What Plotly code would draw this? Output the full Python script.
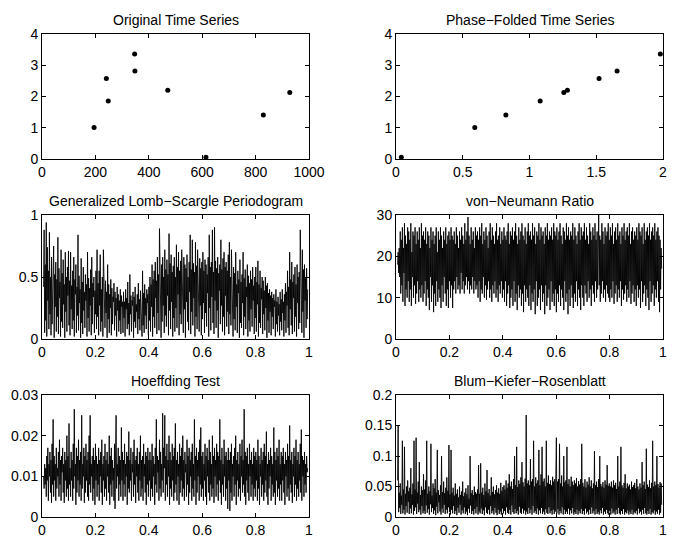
import numpy as np
import plotly.graph_objects as go

# ---- Data ----
orig_time = [195, 241, 248, 347, 348, 471, 614, 829, 928]
orig_mag = [1.01, 2.58, 1.86, 3.36, 2.82, 2.20, 0.06, 1.41, 2.13]

phase = [0.04, 0.59, 0.823, 1.08, 1.257, 1.284, 1.521, 1.656, 1.98]
phase_mag = [0.06, 1.01, 1.41, 1.86, 2.13, 2.20, 2.58, 2.82, 3.36]

freq_start, freq_stop = 0.006, 0.995

gls = [
    .42, .88, .05, .60, .15, .94, .02, .74, .31, .55, .08, .86, .20, .50, .03, .66, .12, .45, .38, .75, .01, .52, .26, .62, .06,
    .48, .18, .82, .04, .57, .33, .46, .02, .72, .14, .53, .09, .64, .28, .44, .01, .70, .22, .50, .06, .58, .35, .71, .11, .47,
    .03, .70, .24, .43, .08, .55, .15, .66, .02, .48, .36, .60, .05, .42, .19, .84, .07, .51, .29, .40, .01, .65, .13, .46, .04,
    .58, .23, .38, .09, .52, .31, .44, .02, .70, .17, .49, .06, .41, .27, .56, .03, .66, .12, .45, .34, .50, .05, .39, .20, .55,
    .08, .72, .18, .45, .03, .55, .27, .68, .06, .40, .14, .50, .02, .72, .33, .42, .09, .47, .21, .38, .01, .60, .16, .44, .05,
    .36, .25, .48, .03, .41, .12, .34, .30, .45, .07, .38, .19, .33, .02, .42, .23, .36, .06, .31, .15, .40, .04, .35, .26, .30,
    .05, .38, .17, .30, .02, .40, .24, .33, .08, .46, .12, .29, .03, .52, .20, .35, .06, .31, .27, .38, .01, .34, .14, .42, .09,
    .28, .22, .36, .04, .45, .16, .32, .07, .39, .25, .30, .02, .55, .11, .37, .05, .44, .19, .33, .08, .40, .29, .36, .03, .42,
    .15, .50, .06, .44, .26, .60, .02, .48, .18, .55, .09, .62, .33, .47, .04, .66, .21, .52, .07, .89, .38, .58, .01, .60, .14,
    .66, .27, .50, .05, .72, .19, .56, .10, .64, .35, .52, .03, .85, .23, .61, .08, .68, .30, .54, .02, .59, .17, .66, .06, .50,
    .25, .76, .09, .58, .36, .70, .03, .55, .20, .63, .12, .72, .41, .52, .05, .66, .24, .60, .01, .57, .30, .68, .14, .50, .07,
    .62, .38, .84, .04, .56, .22, .80, .11, .61, .33, .54, .02, .78, .18, .59, .08, .72, .40, .53, .06, .65, .27, .57, .03, .62,
    .16, .70, .29, .55, .05, .64, .21, .60, .10, .52, .37, .66, .02, .84, .25, .58, .07, .62, .34, .88, .13, .54, .04, .90, .31,
    .63, .09, .57, .23, .66, .01, .53, .39, .60, .12, .80, .27, .56, .06, .65, .18, .70, .03, .58, .35, .62, .10, .55, .22, .68,
    .04, .78, .20, .50, .11, .72, .32, .47, .02, .58, .16, .53, .07, .70, .26, .44, .05, .55, .37, .48, .01, .64, .13, .46, .09,
    .52, .29, .70, .03, .49, .18, .56, .08, .42, .34, .60, .02, .51, .15, .45, .06, .55, .24, .48, .10, .58, .31, .43, .04, .50,
    .17, .58, .06, .46, .28, .63, .02, .44, .13, .55, .09, .41, .32, .50, .04, .47, .20, .39, .07, .50, .25, .43, .01, .45, .15,
    .37, .05, .40, .22, .35, .03, .38, .18, .33, .08, .36, .26, .31, .02, .40, .12, .30, .06, .34, .19, .28, .03, .38, .14, .32,
    .07, .40, .21, .30, .02, .36, .15, .45, .05, .38, .27, .55, .09, .42, .03, .70, .24, .48, .11, .62, .04, .46, .33, .52, .06,
    .58, .18, .44, .02, .60, .29, .50, .08, .54, .13, .88, .36, .47, .05, .72, .22, .56, .01, .60, .31, .49, .09, .57, .16, .40,
]

von_neumann = [
    18, 21, 16, 22, 15, 26, 11, 24, 13, 27, 9, 22, 16, 28, 8, 25, 12, 23, 10, 27, 14, 26, 9, 24, 12,
    28, 8, 21, 15, 26, 10, 25, 13, 27, 8.5, 23, 11, 26, 14, 24, 9, 27, 12, 22, 10, 28, 13, 25, 9, 26,
    11, 24, 14, 27, 8, 23, 12, 26, 10, 25, 7, 22, 15, 27, 9, 24, 13, 26, 6.5, 23, 11, 25, 8, 27, 14,
    21, 9, 26, 12, 24, 10, 27, 7.5, 25, 13, 22, 9, 26, 15, 24, 11, 27, 8, 23, 12, 25, 7.5, 26, 14, 24,
    10, 27, 13, 25, 7.5, 24, 12, 26, 14, 23, 11, 27, 15, 25, 12, 22, 13, 26, 11, 24, 16, 27, 12, 25, 14,
    23, 11, 28, 13, 24, 15, 26, 12, 29.5, 14, 25, 11, 23, 13, 27, 12, 24, 15, 26, 11, 22, 14, 27, 12, 25,
    13, 26, 10, 24, 14, 27, 9, 25, 12, 28, 11, 23, 15, 26, 10, 24, 13, 27, 9.5, 25, 12, 22, 14, 26, 10,
    28, 12, 24, 9, 27, 13, 25, 11, 23, 14, 26, 10, 28, 12, 24, 9, 25, 13, 27, 11, 23, 14, 26, 10, 24,
    12, 27, 9, 25, 14, 24, 8, 26, 11, 28, 13, 23, 7.5, 26, 10, 25, 12, 27, 8, 24, 14, 26, 9, 28, 11,
    25, 7, 23, 13, 27, 10, 24, 12, 26, 8, 28, 11, 25, 6.5, 24, 13, 27, 9, 23, 12, 26, 10, 28, 8, 25,
    13, 26, 7, 24, 11, 28, 9, 25, 12, 27, 6, 23, 14, 26, 8, 25, 10, 28, 12, 24, 7, 27, 13, 25, 9,
    26, 11, 23, 6, 27, 13, 25, 8, 28, 10, 24, 12, 26, 7, 25, 14, 27, 9, 24, 11, 28, 8, 26, 12, 25,
    6.5, 27, 11, 24, 9, 26, 13, 28, 8, 25, 12, 23, 10, 27, 7, 26, 14, 24, 9, 28, 11, 25, 6, 27, 12,
    24, 8, 26, 13, 25, 10, 28, 7.5, 24, 11, 27, 9, 25, 14, 23, 8, 26, 12, 28, 10, 24, 7, 27, 13, 25,
    10, 26, 8, 28, 13, 24, 11, 27, 9, 25, 14, 23, 10, 28, 12, 26, 8, 24, 13, 27, 11, 25, 9, 28, 14,
    24, 10, 26, 12, 27, 30, 13, 25, 9, 24, 11, 28, 14, 26, 10, 23, 12, 27, 9, 25, 13, 26, 11, 28, 10,
    24, 9, 27, 12, 25, 10, 28, 14, 23, 8.5, 26, 11, 27, 13, 24, 9, 28, 12, 25, 10, 26, 14, 23, 8, 27,
    12, 25, 9.5, 28, 11, 24, 13, 26, 9, 27, 12, 25, 10, 28, 14, 23, 8.5, 26, 11, 27, 13, 24, 9, 26, 12,
    25, 8, 27, 13, 24, 10, 28, 12, 26, 7.5, 25, 14, 27, 9, 23, 11, 28, 13, 24, 8, 26, 12, 27, 10, 25,
    7, 28, 14, 24, 9, 26, 11, 27, 13, 25, 8, 28, 12, 24, 10, 26, 14, 27, 9, 25, 6.5, 24, 12, 22, 17,
]

hoeffding = [
    .010, .007, .013, .008, .012, .005, .015, .009, .017, .004, .013, .010, .016, .006, .014, .0035, .018, .008, .024, .005, .015, .009, .013, .004, .017,
    .007, .012, .010, .016, .005, .019, .008, .014, .004, .015, .011, .017, .006, .013, .0035, .016, .009, .014, .005, .020, .007, .015, .004, .023, .008,
    .012, .005, .016, .009, .014, .004, .018, .007, .0265, .010, .013, .003, .017, .006, .015, .009, .019, .005, .014, .008, .016, .004, .025, .007, .013,
    .010, .017, .0035, .015, .006, .018, .009, .014, .005, .016, .004, .020, .008, .025, .006, .013, .010, .015, .004, .017, .007, .014, .003, .018, .009,
    .015, .005, .013, .008, .017, .004, .014, .010, .016, .006, .019, .003, .013, .009, .015, .005, .018, .007, .014, .004, .016, .010, .013, .006, .020,
    .003, .015, .008, .017, .005, .014, .009, .012, .004, .018, .002, .016, .025, .007, .013, .010, .017, .004, .015, .008, .014, .005, .022, .009, .016,
    .004, .014, .008, .018, .005, .013, .010, .016, .003, .015, .007, .021, .006, .014, .009, .017, .004, .013, .011, .016, .005, .019, .008, .014, .0035,
    .015, .010, .017, .006, .013, .004, .016, .009, .020, .005, .014, .007, .015, .004, .018, .010, .013, .006, .016, .003, .015, .008, .017, .005, .014,
    .009, .016, .004, .014, .007, .018, .005, .015, .010, .013, .003, .017, .008, .024, .006, .015, .011, .014, .004, .019, .007, .016, .005, .013, .009,
    .0255, .006, .017, .012, .025, .004, .015, .008, .018, .005, .014, .010, .020, .003, .016, .007, .014, .005, .018, .009, .015, .004, .017, .006, .023,
    .008, .014, .004, .016, .010, .013, .003, .018, .006, .015, .009, .017, .005, .020, .007, .014, .004, .016, .011, .013, .005, .019, .008, .015, .003,
    .017, .006, .014, .010, .016, .004, .018, .007, .013, .005, .024, .009, .015, .003, .017, .006, .014, .010, .016, .004, .019, .008, .022, .005, .015,
    .007, .016, .004, .013, .009, .018, .005, .015, .003, .017, .010, .014, .006, .019, .004, .016, .008, .013, .005, .020, .007, .015, .0035, .017, .010,
    .014, .005, .018, .008, .016, .004, .015, .009, .024, .006, .014, .003, .017, .008, .013, .005, .019, .010, .015, .004, .016, .007, .014, .002, .017,
    .009, .014, .0015, .016, .006, .018, .004, .013, .010, .015, .005, .017, .008, .020, .003, .014, .009, .016, .005, .013, .007, .018, .004, .015, .010,
    .019, .006, .014, .008, .0265, .005, .016, .003, .015, .009, .017, .006, .013, .004, .018, .010, .014, .005, .016, .008, .013, .004, .017, .007, .015,
    .005, .016, .009, .014, .004, .019, .007, .015, .003, .013, .010, .017, .005, .014, .008, .016, .004, .018, .006, .015, .009, .021, .005, .013, .003,
    .016, .007, .014, .010, .017, .004, .015, .008, .013, .005, .022, .006, .016, .003, .014, .009, .017, .005, .015, .007, .019, .004, .013, .008, .016,
    .004, .015, .009, .017, .006, .013, .003, .016, .010, .014, .005, .018, .007, .015, .004, .0225, .008, .014, .006, .016, .0035, .013, .010, .017, .005,
    .015, .008, .019, .004, .014, .007, .016, .005, .013, .009, .018, .006, .0215, .004, .015, .010, .014, .005, .016, .008, .013, .006, .015, .011, .012,
]

bkr = [
    .060, .150, .008, .040, .015, .055, .005, .035, .020, .125, .006, .045, .012, .115, .004, .038, .018, .050, .007, .060, .025, .042, .005, .048, .014,
    .080, .006, .037, .020, .055, .004, .125, .010, .045, .016, .130, .005, .040, .022, .058, .008, .090, .012, .036, .004, .050, .018, .044, .006, .070,
    .010, .045, .005, .060, .019, .125, .007, .038, .013, .050, .004, .042, .021, .120, .008, .035, .015, .055, .005, .047, .011, .062, .003, .040, .017,
    .110, .006, .044, .024, .036, .009, .052, .004, .100, .014, .041, .007, .058, .020, .039, .005, .048, .012, .065, .006, .043, .016, .118, .008, .037,
    .004, .110, .012, .040, .006, .048, .018, .035, .005, .055, .010, .038, .003, .045, .015, .032, .007, .050, .020, .036, .004, .042, .011, .058, .006,
    .034, .016, .040, .005, .047, .009, .037, .003, .052, .014, .030, .007, .100, .019, .039, .005, .044, .010, .036, .004, .050, .013, .041, .006, .038,
    .017, .045, .004, .085, .009, .038, .006, .088, .014, .040, .005, .048, .011, .036, .003, .055, .016, .042, .007, .077, .005, .039, .012, .046, .004,
    .035, .018, .065, .006, .041, .010, .050, .004, .037, .015, .044, .007, .052, .003, .040, .012, .047, .005, .038, .009, .056, .004, .043, .014, .049,
    .006, .052, .010, .045, .004, .060, .016, .048, .007, .055, .005, .070, .012, .050, .004, .058, .019, .046, .008, .062, .005, .100, .013, .052, .006,
    .115, .010, .049, .004, .060, .017, .054, .007, .065, .005, .090, .014, .057, .006, .050, .011, .063, .004, .167, .009, .055, .005, .060, .015, .052,
    .006, .095, .012, .058, .004, .062, .018, .125, .007, .050, .010, .065, .005, .055, .014, .060, .004, .110, .011, .052, .006, .070, .015, .115, .005,
    .058, .009, .063, .004, .050, .013, .125, .007, .056, .005, .068, .016, .054, .006, .060, .010, .052, .004, .066, .012, .058, .005, .062, .009, .055,
    .130, .006, .058, .013, .062, .004, .120, .010, .055, .006, .068, .016, .050, .004, .100, .012, .057, .005, .060, .009, .115, .005, .054, .014, .062,
    .004, .050, .011, .066, .006, .058, .015, .052, .004, .060, .008, .055, .005, .064, .012, .050, .004, .059, .010, .053, .006, .062, .013, .120, .005,
    .056, .010, .050, .004, .062, .014, .048, .006, .058, .009, .053, .004, .065, .012, .050, .005, .060, .016, .047, .006, .055, .010, .108, .004, .052,
    .013, .058, .005, .049, .008, .062, .004, .100, .011, .054, .006, .050, .015, .057, .004, .048, .009, .060, .005, .053, .012, .085, .006, .051, .004,
    .055, .010, .050, .004, .058, .014, .048, .006, .060, .009, .052, .004, .056, .012, .046, .005, .100, .015, .050, .006, .058, .004, .115, .010, .052,
    .005, .048, .013, .056, .004, .070, .008, .047, .006, .055, .011, .050, .004, .053, .009, .045, .005, .058, .012, .049, .004, .052, .008, .056, .006,
    .047, .010, .062, .004, .050, .014, .045, .006, .055, .009, .048, .004, .090, .012, .052, .005, .058, .015, .046, .006, .112, .004, .053, .010, .049,
    .005, .060, .013, .047, .004, .056, .008, .125, .006, .050, .011, .058, .004, .052, .009, .100, .005, .054, .012, .048, .004, .057, .007, .055, .020,
]

titles = ["Original Time Series", "Phase\u2212Folded Time Series",
          "Generalized Lomb\u2212Scargle Periodogram", "von\u2212Neumann Ratio",
          "Hoeffding Test", "Blum\u2212Kiefer\u2212Rosenblatt"]

# ---- Figure ----
FONT = "Liberation Sans, Arial, Helvetica, sans-serif"
W, H = 675, 538
# panel boxes in window pixels (left, right) / (top, bottom)
col_px = [(42, 309), (396, 663)]
row_px = [(34, 159), (215, 339), (395, 517)]

fig = go.Figure()

def xdom(c):
    return [col_px[c][0] / W, col_px[c][1] / W]

def ydom(r):
    return [1 - row_px[r][1] / H, 1 - row_px[r][0] / H]

def grid(series):
    return np.linspace(freq_start, freq_stop, len(series))

LW = 0.9
traces = [
    go.Scatter(x=orig_time, y=orig_mag, mode="markers",
               marker=dict(color="black", size=5)),
    go.Scatter(x=phase, y=phase_mag, mode="markers",
               marker=dict(color="black", size=5)),
    go.Scatter(x=grid(gls), y=gls, mode="lines", line=dict(color="black", width=LW)),
    go.Scatter(x=grid(von_neumann), y=von_neumann, mode="lines", line=dict(color="black", width=LW)),
    go.Scatter(x=grid(hoeffding), y=hoeffding, mode="lines", line=dict(color="black", width=LW)),
    go.Scatter(x=grid(bkr), y=bkr, mode="lines", line=dict(color="black", width=LW)),
]

xranges = [[0, 1000], [0, 2], [0, 1], [0, 1], [0, 1], [0, 1]]
xticks = [
    ([0, 200, 400, 600, 800, 1000], ["0", "200", "400", "600", "800", "1000"]),
    ([0, 0.5, 1, 1.5, 2], ["0", "0.5", "1", "1.5", "2"]),
] + [([0, 0.2, 0.4, 0.6, 0.8, 1], ["0", "0.2", "0.4", "0.6", "0.8", "1"])] * 4
yranges = [[0, 4], [0, 4], [0, 1], [0, 30], [0, 0.03], [0, 0.2]]
yticks = [
    ([0, 1, 2, 3, 4], ["0", "1", "2", "3", "4"]),
    ([0, 1, 2, 3, 4], ["0", "1", "2", "3", "4"]),
    ([0, 0.5, 1], ["0", "0.5", "1"]),
    ([0, 10, 20, 30], ["0", "10", "20", "30"]),
    ([0, 0.01, 0.02, 0.03], ["0", "0.01", "0.02", "0.03"]),
    ([0, 0.05, 0.1, 0.15, 0.2], ["0", "0.05", "0.1", "0.15", "0.2"]),
]

axis_common = dict(showline=True, linecolor="black", linewidth=1, mirror="ticks",
                   ticks="inside", ticklen=4, tickcolor="black", tickwidth=1,
                   showgrid=False, zeroline=False, automargin=False,
                   ticklabeloverflow="allow",
                   tickfont=dict(family=FONT, size=14, color="black"))

layout = dict(width=W, height=H, margin=dict(l=0, r=0, t=0, b=0, pad=0),
              paper_bgcolor="white", plot_bgcolor="white", showlegend=False,
              hovermode=False)
annotations = []
for i in range(6):
    r, c = divmod(i, 2)
    n = "" if i == 0 else str(i + 1)
    tr = traces[i]
    tr.update(xaxis="x" + n, yaxis="y" + n)
    fig.add_trace(tr)
    layout["xaxis" + n] = dict(domain=xdom(c), range=xranges[i], anchor="y" + n,
                               tickvals=xticks[i][0], ticktext=xticks[i][1], **axis_common)
    layout["yaxis" + n] = dict(domain=ydom(r), range=yranges[i], anchor="x" + n,
                               tickvals=yticks[i][0], ticktext=yticks[i][1], **axis_common)
    annotations.append(dict(text=titles[i], xref="x" + n + " domain", yref="y" + n + " domain",
                            x=0.5, y=1, xanchor="center", yanchor="bottom", yshift=4,
                            showarrow=False, font=dict(family=FONT, size=14, color="black")))
layout["annotations"] = annotations
fig.update_layout(**layout)

# the page's default 8px body margin is removed so the figure fills the window
fig.write_html("out.html", config={"displayModeBar": False},
               post_script="document.body.style.margin='0';document.body.style.overflow='hidden';")
